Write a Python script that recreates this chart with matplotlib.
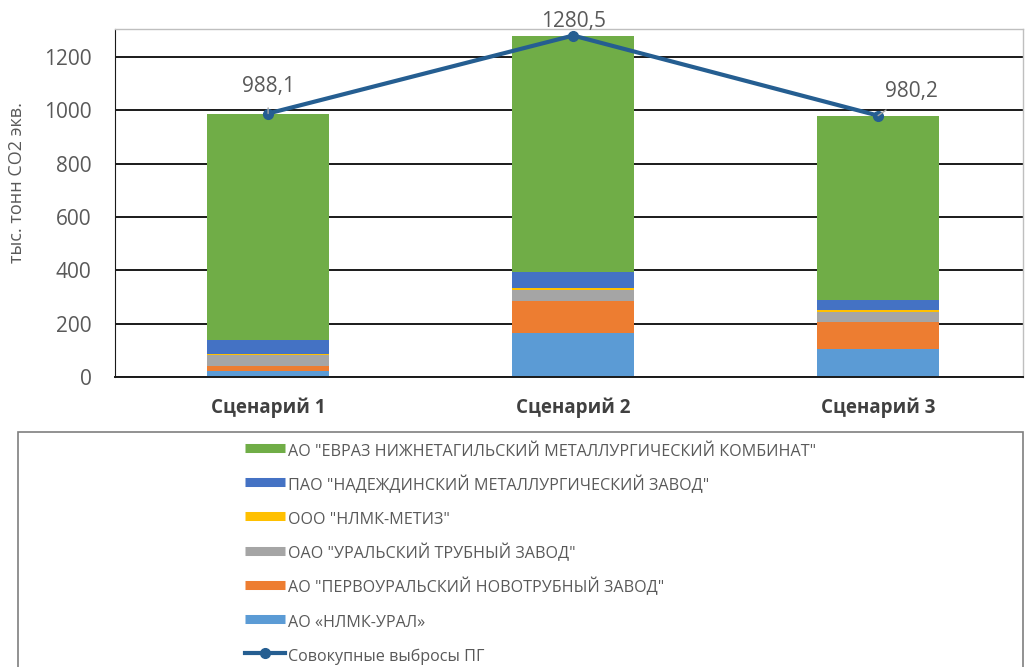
import numpy as np
import matplotlib.pyplot as plt
from matplotlib.lines import Line2D
from matplotlib.patches import Rectangle

plt.rcParams['font.family'] = ['Open Sans', 'DejaVu Sans']

# Data
scenarios = ['Сценарий 1', 'Сценарий 2', 'Сценарий 3']
nlmk_ural = [24, 166, 105]
pervouralsk = [16, 120, 100]
utz = [42, 39, 37]
nlmk_metiz = [3, 10, 10]
nadezhdinsk = [55, 57, 36]
evraz = [848.1, 888.5, 692.2]
total = [988.1, 1280.5, 980.2]
total_labels = ['988,1', '1280,5', '980,2']

series = [
    ('АО «НЛМК-УРАЛ»', nlmk_ural, '#5B9BD5'),
    ('АО "ПЕРВОУРАЛЬСКИЙ НОВОТРУБНЫЙ ЗАВОД"', pervouralsk, '#ED7D31'),
    ('ОАО "УРАЛЬСКИЙ ТРУБНЫЙ ЗАВОД"', utz, '#A5A5A5'),
    ('ООО "НЛМК-МЕТИЗ"', nlmk_metiz, '#FFC000'),
    ('ПАО "НАДЕЖДИНСКИЙ МЕТАЛЛУРГИЧЕСКИЙ ЗАВОД"', nadezhdinsk, '#4472C4'),
    ('АО "ЕВРАЗ НИЖНЕТАГИЛЬСКИЙ МЕТАЛЛУРГИЧЕСКИЙ КОМБИНАТ"', evraz, '#70AD47'),
]
line_color = '#255E91'
text_gray = '#595959'

fig = plt.figure(figsize=(10.25, 6.67), dpi=100)
ax = fig.add_axes([115/1025, 1-377/667, (1023-115)/1025, (377-29)/667])

x = np.arange(len(scenarios))
bottom = np.zeros(len(scenarios))
for name, vals, col in series:
    ax.bar(x, vals, 0.40, bottom=bottom, color=col, zorder=2)
    bottom += np.array(vals)

ax.plot(x, total, color=line_color, lw=3, marker='o', ms=7, zorder=4)

ax.set_xlim(-0.502, 2.475)
ax.set_ylim(0, 1305)
ax.set_yticks(range(0, 1201, 200))
ax.grid(axis='y', color='#1a1a1a', lw=1.4, zorder=1)
ax.tick_params(axis='y', length=0, pad=17, labelsize=15, labelcolor=text_gray)
ax.tick_params(axis='x', length=0, pad=15)
ax.set_xticks(x)
ax.set_xticklabels(scenarios, fontsize=13.5, fontweight='bold', color='#404040')
for s in ['top', 'right']:
    ax.spines[s].set_color('#bfbfbf')
    ax.spines[s].set_linewidth(1)
ax.spines['left'].set_color('#1a1a1a')
ax.spines['bottom'].set_color('#1a1a1a')
ax.spines['bottom'].set_linewidth(1.4)
ax.set_ylabel('тыс. тонн CO2 экв.', fontsize=13, color=text_gray)
ax.yaxis.set_label_coords(-89/908, 0.56)

# value labels
offsets = [(0, 1090), (1, 1335), (2.11, 1069)]
for i, (lx, ly) in enumerate(offsets):
    ax.annotate(total_labels[i], xy=(x[i], total[i]), xytext=(lx, ly),
                ha='center', va='center', fontsize=15, color=text_gray,
                annotation_clip=False, zorder=5,
                arrowprops=dict(arrowstyle='-', color='#a6a6a6', lw=1,
                                shrinkA=6, shrinkB=0) if i != 1 else None)

# legend
fig.patches.append(Rectangle((18/1025, -0.1), (1023-18)/1025, 0.1+1-432/667,
                             transform=fig.transFigure, fill=False,
                             edgecolor='#7f7f7f', lw=1.2))
handles = []
labels = []
for name, vals, col in series[::-1]:
    handles.append(Line2D([], [], color=col, lw=6.5, solid_capstyle='butt'))
    labels.append(name)
handles.append(Line2D([], [], color=line_color, lw=3, marker='o', ms=7))
labels.append('Совокупные выбросы ПГ')
fig.legend(handles, labels, loc='upper left', bbox_to_anchor=(230/1025, 1-426/667),
           frameon=False, fontsize=11.6, handlelength=2.5, handletextpad=0.2,
           handleheight=1.6, labelspacing=0.83, labelcolor=text_gray)

fig.savefig('out.png', dpi=100)
